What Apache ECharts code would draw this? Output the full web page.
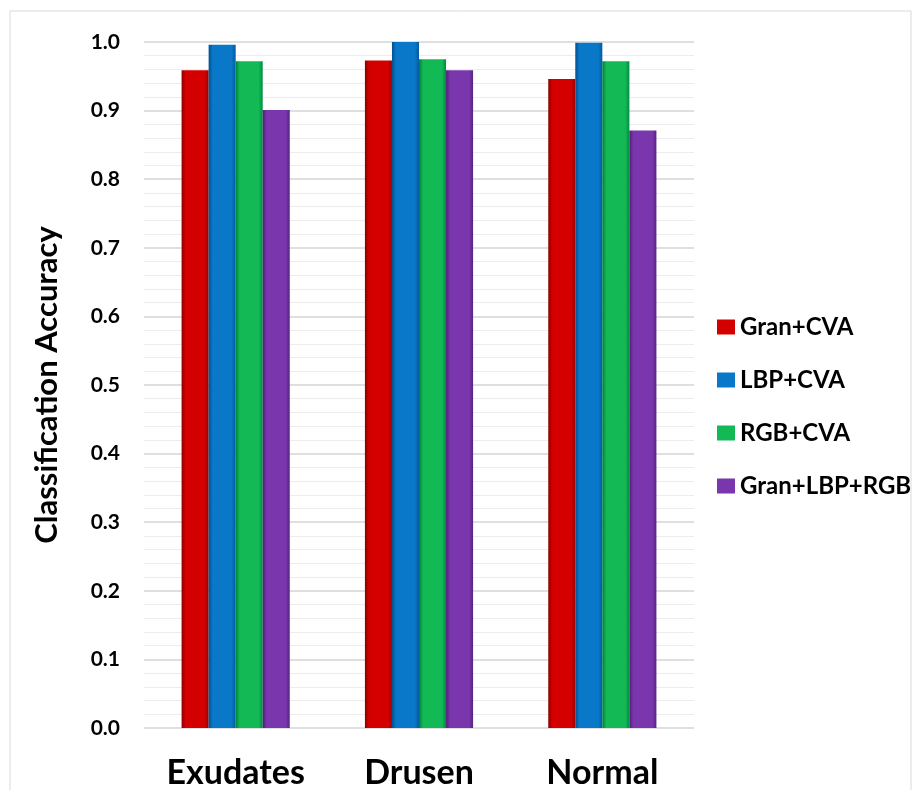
<!DOCTYPE html>
<html>
<head>
<meta charset="utf-8">
<script src="https://cdn.jsdelivr.net/npm/echarts@6/dist/echarts.min.js"></script>
<style>
  html, body { margin: 0; padding: 0; background: #fff; }
  #main { width: 922px; height: 790px; }
</style>
</head>
<body>
<div id="main"></div>
<script>
var categories = ["Exudates", "Drusen", "Normal"]
var seriesNames = ["Gran+CVA", "LBP+CVA", "RGB+CVA", "Gran+LBP+RGB"]
var granCva = [0.959, 0.973, 0.946]
var lbpCva = [0.996, 1.0, 0.999]
var rgbCva = [0.972, 0.975, 0.972]
var granLbpRgb = [0.901, 0.959, 0.871]
var yTicks = [0.0, 0.1, 0.2, 0.3, 0.4, 0.5, 0.6, 0.7, 0.8, 0.9, 1.0]

// dark edge, face, right edge
var colors = [
  ["#8e0000", "#d40000", "#9a0000"],
  ["#00508f", "#0a78c8", "#005a9e"],
  ["#008038", "#12b955", "#008c40"],
  ["#4e1f75", "#7a36ad", "#562482"],
]

function shade(c) {
  return new echarts.graphic.LinearGradient(0, 0, 1, 0, [
    { offset: 0, color: c[0] },
    { offset: 0.15, color: c[1] },
    { offset: 0.85, color: c[1] },
    { offset: 1, color: c[2] },
  ])
}

var chart = echarts.init(document.getElementById("main"), null, { renderer: "canvas" })

var allData = [granCva, lbpCva, rgbCva, granLbpRgb]

var option = {
  animation: false,
  graphic: [
    {
      type: "rect",
      shape: { x: 10, y: 11, width: 901, height: 790 },
      style: { fill: "none", stroke: "#d9d9d9", lineWidth: 1 },
      silent: true,
    },
  ],
  grid: { left: 144, right: 228, top: 42, bottom: 60 },
  legend: {
    orient: "vertical",
    left: 712,
    top: 310,
    itemWidth: 18,
    itemHeight: 15,
    itemGap: 29,
    icon: "rect",
    textStyle: {
      fontFamily: "Lato",
      fontWeight: "bold",
      fontSize: 24,
      color: "#000",
    },
    data: seriesNames.map(function(n, i) {
      return { name: n, itemStyle: { color: colors[i][1] } }
    }),
  },
  xAxis: {
    type: "category",
    data: categories,
    axisLine: { show: false },
    axisTick: { show: false },
    axisLabel: {
      margin: 28,
      fontFamily: "Lato",
      fontWeight: "bold",
      fontSize: 34,
      color: "#000",
    },
  },
  yAxis: {
    type: "value",
    min: 0,
    max: 1,
    interval: 0.1,
    name: "Classification Accuracy",
    nameLocation: "middle",
    nameGap: 82,
    nameTextStyle: {
      fontFamily: "Lato",
      fontWeight: "bold",
      fontSize: 31,
      color: "#000",
    },
    axisLine: { show: false },
    axisTick: { show: false },
    axisLabel: {
      margin: 24,
      fontFamily: "Lato",
      fontWeight: "bold",
      fontSize: 21,
      color: "#000",
      formatter: function(v) {
        return yTicks.indexOf(Math.round(v * 10) / 10) >= 0 ? v.toFixed(1) : ""
      },
    },
    splitLine: { lineStyle: { color: "#d4d4d4", width: 1.5 } },
    minorTick: { show: false, splitNumber: 5 },
    minorSplitLine: { show: true, lineStyle: { color: "#ececec", width: 1 } },
  },
  series: seriesNames.map(function(name, i) {
    return {
      name: name,
      type: "bar",
      data: allData[i],
      barGap: "0%",
      barCategoryGap: "41%",
      itemStyle: { color: shade(colors[i]) },
    }
  }),
}

chart.setOption(option)
</script>
</body>
</html>
